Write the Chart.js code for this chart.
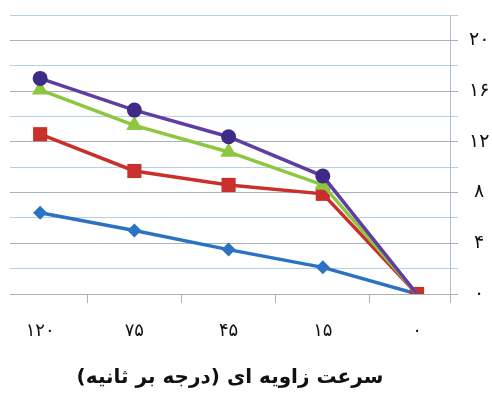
<!DOCTYPE html>
<html>
<head>
<meta charset="utf-8">
<script src="https://cdn.jsdelivr.net/npm/chart.js@4/dist/chart.umd.min.js"></script>
<style>
  html, body { margin: 0; padding: 0; background: #ffffff; }
  #wrap { width: 492px; height: 396px; position: relative; }
</style>
</head>
<body>
<div id="wrap"><canvas id="c" width="492" height="396"></canvas></div>
<script>
// Angular speed categories (degrees per second), left to right
const categories = ['۱۲۰', '۷۵', '۴۵', '۱۵', '۰'];

// Series values per category
const purpleValues = [17.0, 14.5, 12.4, 9.3, 0];
const greenValues  = [16.1, 13.3, 11.2, 8.6, 0];
const redValues    = [12.6, 9.7, 8.6, 7.9, 0];
const blueValues   = [6.4, 5.0, 3.5, 2.1, 0];

// Value axis labels (every 4 units)
const yTickValues = [0, 4, 8, 12, 16, 20];
const yTickLabels = ['۰', '۴', '۸', '۱۲', '۱۶', '۲۰'];

const axisTitle = 'سرعت زاویه ای (درجه بر ثانیه)';

const FONT = "'DejaVu Sans', 'Liberation Sans', sans-serif";
const lastIndex = categories.length - 1;

function toPoints(values) {
  return values.map((v, i) => ({ x: i, y: v }));
}

function series(values, color, pointColor, style, radius, hideLast) {
  return {
    data: toPoints(values),
    borderColor: color,
    backgroundColor: pointColor,
    pointBackgroundColor: pointColor,
    pointBorderColor: pointColor,
    pointBorderWidth: 0,
    borderWidth: 3.5,
    tension: 0,
    pointStyle: style,
    pointRadius: ctx => (hideLast && ctx.dataIndex === lastIndex) ? 0 : radius,
    pointHoverRadius: radius
  };
}

const GRID_MAJOR = '#a7b1ba';
const GRID_MINOR = '#b5d0e4';

new Chart(document.getElementById('c'), {
  type: 'line',
  data: {
    datasets: [
      series(purpleValues, '#5e3ea1', '#3e2a87', 'circle', 7.5, true),
      series(greenValues, '#8dc63f', '#8dc63f', 'triangle', 9.5, true),
      series(redValues, '#c9302c', '#c9302c', 'rect', 10, false),
      series(blueValues, '#2b72c2', '#2b72c2', 'rectRot', 7, true)
    ]
  },
  options: {
    responsive: false,
    animation: false,
    events: [],
    layout: { padding: { top: 15, left: 10, right: 0, bottom: 0 } },
    plugins: { legend: { display: false }, tooltip: { enabled: false }, title: { display: false } },
    scales: {
      x: {
        type: 'linear',
        min: -0.32,
        max: 4.35,
        afterBuildTicks: s => {
          const t = [];
          categories.forEach((c, i) => {
            t.push({ value: i });
            if (i < lastIndex) t.push({ value: i + 0.5 });
          });
          t.push({ value: 4.35 });
          s.ticks = t;
        },
        afterFit: s => { s.height = 102; s.paddingLeft = 0; s.paddingRight = 0; },
        ticks: {
          autoSkip: false,
          maxRotation: 0,
          padding: 18,
          color: '#111111',
          font: { family: FONT, size: 18 },
          callback: v => Number.isInteger(v) ? categories[v] : ''
        },
        grid: {
          drawOnChartArea: false,
          tickLength: 9,
          tickColor: ctx => (ctx.tick && Number.isInteger(ctx.tick.value)) ? 'rgba(0,0,0,0)' : GRID_MAJOR
        },
        border: { display: false },
        title: {
          display: true,
          text: axisTitle,
          color: '#111111',
          font: { family: FONT, size: 20, weight: 'bold' },
          padding: { top: 0, bottom: 6 }
        }
      },
      y: {
        position: 'right',
        min: 0,
        max: 22,
        afterFit: s => { s.width = 42; s.paddingTop = 0; s.paddingBottom = 0; },
        ticks: {
          stepSize: 2,
          autoSkip: false,
          padding: 11,
          crossAlign: 'center',
          color: '#111111',
          font: { family: FONT, size: 19 },
          callback: v => {
            const k = yTickValues.indexOf(v);
            return k >= 0 ? yTickLabels[k] : '';
          }
        },
        grid: {
          color: ctx => (ctx.tick && ctx.tick.value % 4 === 0) ? GRID_MAJOR : GRID_MINOR,
          tickColor: ctx => (ctx.tick && ctx.tick.value % 4 === 0) ? GRID_MAJOR : GRID_MINOR,
          tickLength: 8,
          lineWidth: 1
        },
        border: { display: true, color: '#aebdca', width: 1 }
      }
    }
  }
});
</script>
</body>
</html>
